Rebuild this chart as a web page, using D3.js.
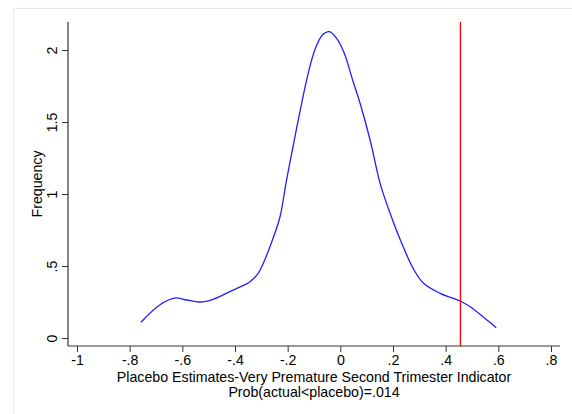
<!DOCTYPE html>
<html>
<head>
<meta charset="utf-8">
<script src="https://cdn.jsdelivr.net/npm/d3@7"></script>
<style>
  body { margin: 0; background: #fff; }
  svg { display: block; font-family: "Liberation Sans", Arial, Helvetica, sans-serif; }
</style>
</head>
<body>
<script>
// kernel density of placebo estimates
const densityX = [-0.757, -0.686, -0.625, -0.584, -0.533, -0.483, -0.407, -0.343, -0.312, -0.29,
  -0.262, -0.229, -0.205, -0.181, -0.147, -0.122, -0.096, -0.068, -0.042, -0.014,
  0.015, 0.047, 0.075, 0.113, 0.151, 0.189, 0.228, 0.278, 0.316, 0.379, 0.455, 0.493, 0.592];
const densityY = [0.109, 0.229, 0.278, 0.264, 0.25, 0.269, 0.333, 0.391, 0.449, 0.53,
  0.66, 0.842, 1.09, 1.317, 1.63, 1.838, 2.005, 2.104, 2.127, 2.081,
  1.977, 1.79, 1.63, 1.375, 1.074, 0.866, 0.68, 0.478, 0.38, 0.31, 0.257, 0.217, 0.072];
const actualEstimate = [0.456];

const xTicks = [-1, -0.8, -0.6, -0.4, -0.2, 0, 0.2, 0.4, 0.6, 0.8];
const xTickLabels = ['-1', '-.8', '-.6', '-.4', '-.2', '0', '.2', '.4', '.6', '.8'];
const yTicks = [0, 0.5, 1, 1.5, 2];
const yTickLabels = ['0', '.5', '1', '1.5', '2'];

const xTitle = 'Placebo Estimates-Very Premature Second Trimester Indicator';
const xNote = 'Prob(actual<placebo)=.014';
const yTitle = 'Frequency';

const width = 572, height = 414;
const fontSize = '14.2px';

const svg = d3.select('body').append('svg')
  .attr('width', width)
  .attr('height', height);

// graph region outline
svg.append('rect')
  .attr('x', 13.5).attr('y', 8.5)
  .attr('width', 700).attr('height', 500)
  .attr('fill', 'none')
  .attr('stroke', '#e3ecee');

const x = d3.scaleLinear().domain([-1, 0.8]).range([77, 551]);
const y = d3.scaleLinear().domain([0, 2]).range([338, 50]);

const axisX = 68, axisY = 346;

// axis lines
svg.append('line')
  .attr('x1', axisX).attr('x2', 560)
  .attr('y1', axisY).attr('y2', axisY)
  .attr('stroke', '#333').attr('stroke-width', 1.2);
svg.append('line')
  .attr('x1', axisX).attr('x2', axisX)
  .attr('y1', 22).attr('y2', axisY)
  .attr('stroke', '#333').attr('stroke-width', 1.2);

const gx = svg.append('g')
  .attr('transform', `translate(0,${axisY})`)
  .call(d3.axisBottom(x)
    .tickValues(xTicks)
    .tickSize(6)
    .tickPadding(3)
    .tickFormat((d, i) => xTickLabels[i]));

const gy = svg.append('g')
  .attr('transform', `translate(${axisX},0)`)
  .call(d3.axisLeft(y)
    .tickValues(yTicks)
    .tickSize(6)
    .tickFormat((d, i) => yTickLabels[i]));

[gx, gy].forEach(g => {
  g.select('.domain').remove();
  g.selectAll('.tick line').attr('stroke', '#333');
  g.selectAll('.tick text')
    .attr('fill', '#000')
    .style('font-size', fontSize)
    .style('font-family', '"Liberation Sans", Arial, sans-serif');
});

// rotated y labels, centred about 16px left of the axis
gy.selectAll('.tick text')
  .attr('x', 0)
  .attr('y', 0)
  .attr('dy', '0.36em')
  .attr('transform', 'translate(-16,0) rotate(-90)')
  .style('text-anchor', 'middle');

// density curve
const line = d3.line()
  .x((d, i) => x(densityX[i]))
  .y(d => y(d))
  .curve(d3.curveCatmullRom.alpha(0.5));

svg.append('path')
  .datum(densityY)
  .attr('d', line)
  .attr('fill', 'none')
  .attr('stroke', '#1f1fff')
  .attr('stroke-width', 1.3);

// actual estimate
svg.selectAll('.actual')
  .data(actualEstimate)
  .enter()
  .append('line')
  .attr('class', 'actual')
  .attr('x1', d => x(d)).attr('x2', d => x(d))
  .attr('y1', 22).attr('y2', axisY)
  .attr('stroke', '#ff0000')
  .attr('stroke-width', 1.3);

// titles
svg.append('text')
  .attr('x', 314).attr('y', 382)
  .attr('text-anchor', 'middle')
  .style('font-size', fontSize)
  .text(xTitle);

svg.append('text')
  .attr('x', 314).attr('y', 396.5)
  .attr('text-anchor', 'middle')
  .style('font-size', fontSize)
  .text(xNote);

svg.append('text')
  .attr('transform', `translate(42,184) rotate(-90)`)
  .attr('text-anchor', 'middle')
  .style('font-size', fontSize)
  .text(yTitle);
</script>
</body>
</html>
